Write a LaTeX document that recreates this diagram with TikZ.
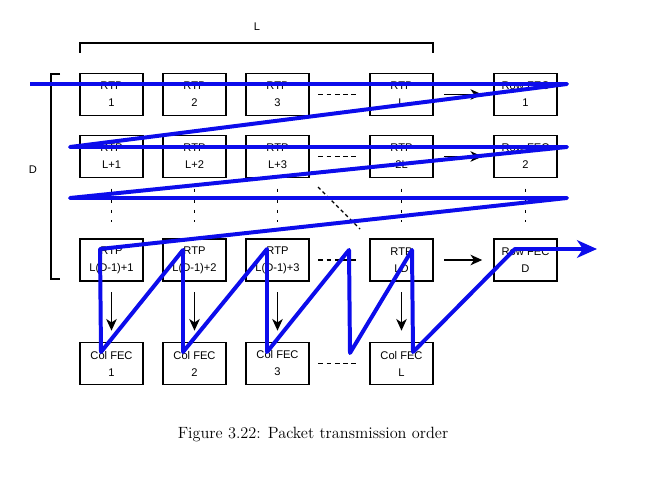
\documentclass[tikz,border=0pt]{standalone}
\usepackage{fontspec}
\newfontfamily\boxfont{Liberation Sans}
\usetikzlibrary{arrows.meta}

\begin{document}
\begin{tikzpicture}[x=0.03cm,y=-0.03cm]
\definecolor{orderColor}{RGB}{12,12,235}
\tikzset{pkt/.style={draw,line width=1.3pt,minimum width=53.6pt,minimum height=35.7pt,inner sep=0pt,align=center,font=\boxfont\fontsize{9.5}{14.5}\selectfont},
  flow/.style={->,>={Stealth[length=10pt,width=9pt,inset=3pt]},line width=1.2pt,shorten <=9pt,shorten >=9.5pt},
  gap/.style={dash pattern=on 4pt off 3pt,line width=1.2pt,shorten <=7.5pt,shorten >=11pt},
  vdots/.style={dash pattern=on 3pt off 6pt,line width=1.2pt,shorten <=9pt,shorten >=13.6pt}}
\useasboundingbox (0,0) rectangle (650,478);
% packet grid
\node[pkt] (a1) at (111.5,94.5) {RTP\\1};
\node[pkt] (a2) at (194.5,94.5) {RTP\\2};
\node[pkt] (a3) at (277.5,94.5) {RTP\\3};
\node[pkt] (al) at (401.5,94.5) {RTP\\L};
\node[pkt] (ar) at (525.5,94.5) {Row FEC\\1};
\node[pkt] (b1) at (111.5,156.5) {RTP\\L+1};
\node[pkt] (b2) at (194.5,156.5) {RTP\\L+2};
\node[pkt] (b3) at (277.5,156.5) {RTP\\L+3};
\node[pkt] (bl) at (401.5,156.5) {RTP\\2L};
\node[pkt] (br) at (525.5,156.5) {Row FEC\\2};
\node[pkt] (d1) at (111.5,260) {RTP\\L(D-1)+1};
\node[pkt] (d2) at (194.5,260) {RTP\\L(D-1)+2};
\node[pkt] (d3) at (277.5,260) {RTP\\L(D-1)+3};
\node[pkt] (dl) at (401.5,260) {RTP\\LD};
\node[pkt] (dr) at (525.5,260) {Row FEC\\D};
\node[pkt] (f1) at (111.5,363.5) {Col FEC\\1};
\node[pkt] (f2) at (194.5,363.5) {Col FEC\\2};
\node[pkt] (f3) at (277.5,363.5) {Col FEC\\3};
\node[pkt] (fl) at (401.5,363.5) {Col FEC\\L};
% gaps
\draw[gap] (a3) -- (al);
\draw[gap] (b3) -- (bl);
\draw[gap] (d3) -- (dl);
\draw[gap] (f3) -- (fl);
\foreach \c in {1,2,3,l,r}
  \draw[vdots] (b\c) -- (d\c);
\draw[dash pattern=on 3pt off 2.5pt,line width=1.2pt] (318,187) -- (360,229);
% FEC arrows
\draw[flow] (al) -- (ar);
\draw[flow] (bl) -- (br);
\draw[flow] (dl) -- (dr);
\foreach \c in {1,2,3,l}
  \draw[flow] (d\c) -- (f\c);
% brackets
\draw[line width=1.3pt] (80,53) -- (80,43) -- coordinate (lMid) (433,43) -- (433,53);
\node[font=\boxfont\fontsize{9.5}{11}\selectfont] (lLabel) at (257,27) {L};
\draw[line width=1.3pt] (60,74) -- (51,74) -- (51,279) -- (60,279);
\node[font=\boxfont\fontsize{9.5}{11}\selectfont] (dLabel) at (33,170) {D};
% transmission order
\draw[orderColor,line width=3.4pt,line join=round,-{Stealth[length=17pt,width=15pt,inset=5pt]}]
  (30,84) -- (567,84) -- (70,147) -- (567,147) -- (70,198) -- (567,198)
  -- (100,249) -- (101,352) -- (183,250) -- (183,352) -- (267,249) -- (267,352)
  -- (349,250) -- (350,353) -- (412,250) -- (413,352) -- (515,249) -- (597,249);
\node[font=\fontsize{13.9}{16}\selectfont] (caption) at (313,435) {Figure 3.22: Packet transmission order};
\end{tikzpicture}
\end{document}
